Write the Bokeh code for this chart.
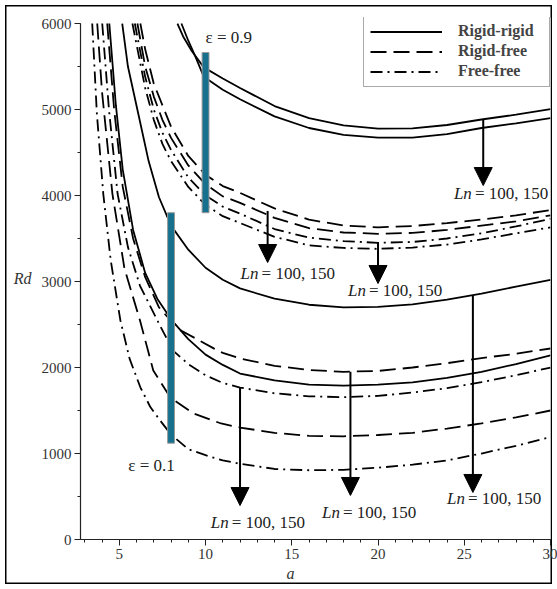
from bokeh.plotting import figure
from bokeh.models import Range1d, SingleIntervalTicker, Arrow, NormalHead, Legend, LegendItem, Title
from bokeh.core.properties import value
from bokeh.embed import file_html
from bokeh.resources import INLINE

# ---------------- data ----------------
# epsilon = 0.9
a_rr100_e9 = [8.37, 8.7, 9.2, 9.9, 11, 12, 14, 16, 18, 20, 22, 24, 26, 28, 30]
rd_rr100_e9 = [6000, 5850, 5680, 5490, 5360, 5250, 5040, 4900, 4815, 4778, 4780, 4820, 4884, 4940, 5005]
a_rr150_e9 = [8.6, 9, 9.4, 9.9, 11, 12, 14, 16, 18, 20, 22, 24, 26, 28, 30]
rd_rr150_e9 = [6000, 5800, 5620, 5380, 5230, 5120, 4920, 4785, 4705, 4672, 4674, 4715, 4785, 4840, 4900]
a_rf100_e9 = [6.22, 6.5, 7, 7.6, 8, 9, 10, 11, 12, 14, 16, 18, 20, 22, 24, 26, 28, 30]
rd_rf100_e9 = [6000, 5700, 5300, 5000, 4800, 4460, 4240, 4110, 4030, 3850, 3720, 3650, 3630, 3645, 3680, 3720, 3770, 3830]
a_rf150_e9 = [6.05, 6.5, 7, 7.5, 8, 9, 10, 11, 12, 14, 16, 18, 20, 22, 24, 26, 28, 30]
rd_rf150_e9 = [6000, 5500, 5150, 4880, 4670, 4350, 4130, 3990, 3915, 3740, 3620, 3570, 3555, 3565, 3600, 3650, 3700, 3770]
a_ff100_e9 = [5.9, 6.5, 7, 7.5, 8, 9, 10, 11, 12, 14, 16, 18, 20, 22, 24, 26, 28, 30]
rd_ff100_e9 = [6000, 5380, 5000, 4730, 4530, 4210, 4000, 3870, 3790, 3610, 3510, 3470, 3450, 3460, 3500, 3560, 3640, 3730]
a_ff150_e9 = [5.76, 6.5, 7, 7.5, 8, 9, 10, 11, 12, 14, 16, 18, 20, 22, 24, 26, 28, 30]
rd_ff150_e9 = [6000, 5250, 4880, 4600, 4400, 4100, 3890, 3760, 3680, 3520, 3420, 3390, 3380, 3395, 3430, 3490, 3560, 3630]

# epsilon = 0.1
a_rr100_e1 = [5.17, 5.5, 6.1, 6.7, 7.3, 8, 9, 10, 11, 12, 14, 16, 18, 20, 22, 24, 26, 28, 30]
rd_rr100_e1 = [6000, 5500, 4950, 4400, 3980, 3650, 3370, 3160, 3020, 2920, 2800, 2730, 2700, 2705, 2735, 2790, 2860, 2940, 3020]
a_rr150_e1 = [4.42, 4.8, 5.2, 5.8, 6.5, 7.2, 8, 9, 10, 11, 12, 14, 16, 18, 20, 22, 24, 26, 28, 30]
rd_rr150_e1 = [6000, 5050, 4300, 3600, 3100, 2800, 2560, 2330, 2150, 2030, 1930, 1850, 1800, 1790, 1800, 1826, 1880, 1950, 2040, 2140]
a_rf100_e1 = [4.3, 4.7, 5.2, 5.8, 6.5, 7.3, 8.4, 9.5, 10.5, 11, 12, 14, 16, 18, 20, 22, 24, 26, 28, 30]
rd_rf100_e1 = [6000, 5000, 4100, 3500, 3050, 2700, 2450, 2330, 2220, 2170, 2105, 2020, 1970, 1950, 1960, 2000, 2050, 2110, 2160, 2221]
a_rf150_e1 = [3.72, 4.0, 4.6, 5.3, 6.2, 6.97, 7.96, 9.3, 10.9, 12, 14, 16, 18, 20, 22, 24, 26, 28, 30]
rd_rf150_e1 = [6000, 5200, 4020, 3150, 2547, 1965, 1651, 1465, 1349, 1302, 1240, 1205, 1200, 1215, 1240, 1290, 1350, 1420, 1500]
a_ff100_e1 = [4.01, 4.4, 4.9, 5.5, 6.2, 7.2, 8.1, 9, 10, 11, 12, 14, 16, 18, 20, 22, 24, 26, 28, 30]
rd_ff100_e1 = [6000, 5000, 4020, 3400, 2950, 2550, 2200, 2040, 1910, 1820, 1767, 1700, 1665, 1655, 1670, 1709, 1760, 1830, 1910, 2000]
a_ff150_e1 = [3.43, 3.7, 4.07, 4.5, 5.06, 5.6, 6.22, 6.8, 7.38, 8, 9, 10, 11, 12, 14, 16, 18, 20, 22, 24, 26, 28, 30]
rd_ff150_e1 = [6000, 4950, 4020, 3250, 2550, 2100, 1770, 1540, 1380, 1220, 1050, 980, 920, 880, 820, 805, 810, 835, 870, 920, 1000, 1090, 1190]

# vertical bars marking the epsilon groups: (a, bottom, top)
bar_a = [10.0, 8.0]
bar_bottom = [3800, 1120]
bar_top = [5663, 3800]

# arrows Ln = 100 -> 150: (a, start, end)
arrow_a = [26.1, 13.6, 20.0, 12.0, 18.4, 25.5]
arrow_start = [4884, 3820, 3460, 1767, 1950, 2843]
arrow_end = [4116, 3221, 2977, 395, 512, 547]

# "Ln = 100, 150" annotations: (a, Rd) of the left end of the text
ln_a = [24.4, 12.03, 18.26, 10.3, 16.75, 24.0]
ln_rd = [4023, 3093, 2895, 198, 314, 477]

eps_text = ["ε = 0.9", "ε = 0.1"]
eps_a = [10.0, 5.52]
eps_rd = [5837, 860]

x_ticks_interval = 5
y_ticks_interval = 1000
legend_labels = ["Rigid-rigid", "Rigid-free", "Free-free"]

# ---------------- figure ----------------
SERIF = "Liberation Serif"
p = figure(width=557, height=589, output_backend="svg", toolbar_location=None,
           x_range=Range1d(2.75, 30), y_range=Range1d(0, 6070),
           min_border_left=80, min_border_right=7, min_border_top=17, min_border_bottom=50,
           background_fill_color="white", border_fill_color="white", border_fill_alpha=0,
           styles={"box-shadow": "inset 0 0 0 5px #ffffff, inset 0 0 0 6.5px #000000",
                   "background-color": "#ffffff"})
p.outline_line_color = None
p.grid.visible = False

p.xaxis.ticker = SingleIntervalTicker(interval=x_ticks_interval, num_minor_ticks=5)
p.yaxis.ticker = SingleIntervalTicker(interval=y_ticks_interval, num_minor_ticks=2)
p.yaxis.bounds = (0, 6000)
for ax in (p.xaxis, p.yaxis):
    ax.major_tick_in = 0
    ax.major_tick_out = 6
    ax.minor_tick_in = 0
    ax.minor_tick_out = 3
    ax.axis_line_color = "#222"
    ax.major_tick_line_color = "#222"
    ax.minor_tick_line_color = "#222"
    ax.axis_line_width = 1.2
    ax.major_label_text_font = SERIF
    ax.major_label_text_font_size = "15px"
    ax.major_label_text_color = "#333"
p.xaxis.major_label_standoff = 3
p.yaxis.major_label_standoff = 3
p.yaxis.axis_label = "Rd"
p.yaxis.axis_label_orientation = "horizontal"
p.yaxis.axis_label_text_font = SERIF
p.yaxis.axis_label_text_font_style = "italic"
p.yaxis.axis_label_text_font_size = "16px"
p.yaxis.axis_label_text_color = "#333"
p.yaxis.axis_label_standoff = 7

# x axis label "a", placed under a = 15 as in the reference
p.add_layout(Title(text="a", align="left", offset=206, standoff=2,
                   text_font=SERIF, text_font_style="italic", text_font_size="16px",
                   text_color="#333"), "below")

SOLID = "solid"
DASH = "16 7"
DASHDOT = "12 5 2 5"
LW = 1.8

curves = [
    (a_rr100_e9, rd_rr100_e9, SOLID), (a_rr150_e9, rd_rr150_e9, SOLID),
    (a_rf100_e9, rd_rf100_e9, DASH), (a_rf150_e9, rd_rf150_e9, DASH),
    (a_ff100_e9, rd_ff100_e9, DASHDOT), (a_ff150_e9, rd_ff150_e9, DASHDOT),
    (a_rr100_e1, rd_rr100_e1, SOLID), (a_rr150_e1, rd_rr150_e1, SOLID),
    (a_rf100_e1, rd_rf100_e1, DASH), (a_rf150_e1, rd_rf150_e1, DASH),
    (a_ff100_e1, rd_ff100_e1, DASHDOT), (a_ff150_e1, rd_ff150_e1, DASHDOT),
]
rends = {}
for xs, ys, dash in curves:
    r = p.line(xs, ys, line_color="black", line_width=LW, line_dash=dash)
    rends.setdefault(dash, r)

# teal bars
p.vbar(x=bar_a, width=0.4, bottom=bar_bottom, top=bar_top,
       fill_color="#17708e", line_color="#9a9a9a", line_width=1)

# arrows
for xa, y0, y1 in zip(arrow_a, arrow_start, arrow_end):
    p.add_layout(Arrow(end=NormalHead(size=18, fill_color="black", line_color="black"),
                       x_start=xa, y_start=y0, x_end=xa, y_end=y1,
                       line_color="black", line_width=2))

# Ln labels (italic "Ln" + regular remainder)
p.text(x=ln_a, y=ln_rd, text=["Ln"] * len(ln_a), text_font=value(SERIF),
       text_font_style="italic", text_font_size="17px", text_baseline="middle",
       text_align="left", text_color="#222")
p.text(x=ln_a, y=ln_rd, text=["= 100, 150"] * len(ln_a), text_font=value(SERIF),
       text_font_size="17px", text_baseline="middle", text_align="left",
       x_offset=21, text_color="#222")

p.text(x=eps_a, y=eps_rd, text=eps_text, text_font=value(SERIF),
       text_font_size="17px", text_baseline="middle", text_align="left", text_color="#222")

legend = Legend(items=[LegendItem(label=legend_labels[0], renderers=[rends[SOLID]]),
                       LegendItem(label=legend_labels[1], renderers=[rends[DASH]]),
                       LegendItem(label=legend_labels[2], renderers=[rends[DASHDOT]])],
                location=(283, 452), padding=6, spacing=2, margin=0,
                glyph_width=72, glyph_height=17, label_height=17, label_width=85,
                label_standoff=16,
                label_text_font=SERIF, label_text_font_style="bold",
                label_text_font_size="16px", border_line_color="#555",
                border_line_width=1, background_fill_color="white", background_fill_alpha=1)
p.add_layout(legend)

open("out.html", "w").write(file_html(p, INLINE))
